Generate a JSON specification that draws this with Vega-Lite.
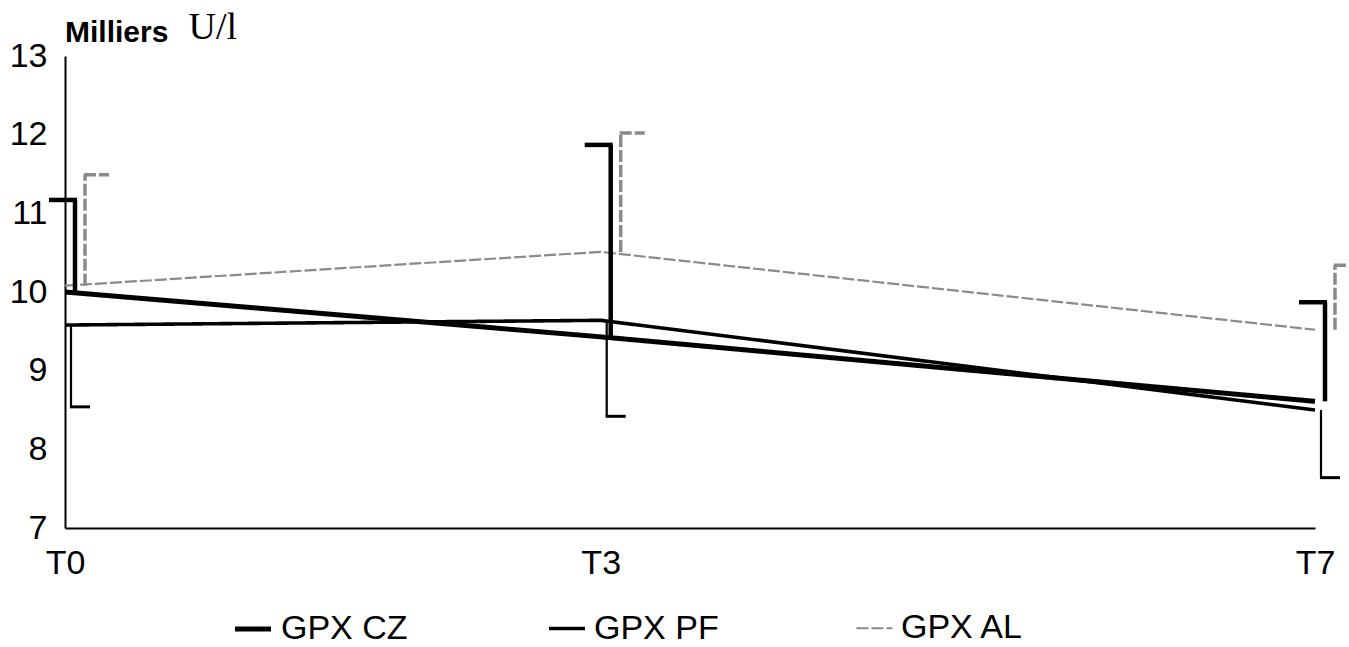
{
  "$schema": "https://vega.github.io/schema/vega-lite/v6.json",
  "width": 1250,
  "height": 472,
  "autosize": "none",
  "padding": {"left": 65, "top": 56, "right": 34, "bottom": 119},
  "background": "white",
  "title": {
    "text": "Milliers",
    "anchor": "start",
    "frame": "group",
    "font": "Liberation Sans",
    "fontSize": 30,
    "fontWeight": "bold",
    "color": "black",
    "offset": 0,
    "dy": 40
  },
  "data": {
    "values": [
      {"t": 0, "series": "GPX CZ", "mean": 10.0, "bar": 11.17},
      {"t": 3, "series": "GPX CZ", "mean": 9.43, "bar": 11.87},
      {"t": 7, "series": "GPX CZ", "mean": 8.61, "bar": 9.87},
      {"t": 0, "series": "GPX PF", "mean": 9.58, "bar": 8.54},
      {"t": 3, "series": "GPX PF", "mean": 9.64, "bar": 8.42},
      {"t": 7, "series": "GPX PF", "mean": 8.5, "bar": 7.64},
      {"t": 0, "series": "GPX AL", "mean": 10.08, "bar": 11.49},
      {"t": 3, "series": "GPX AL", "mean": 10.51, "bar": 12.02},
      {"t": 7, "series": "GPX AL", "mean": 9.52, "bar": 10.34}
    ]
  },
  "layer": [
    {
      "mark": {"type": "line", "strokeCap": "butt"},
      "encoding": {
        "x": {
          "field": "t", "type": "quantitative",
          "scale": {"domain": [0, 7], "nice": false, "zero": false},
          "axis": {"values": [0, 3, 7], "labelExpr": "'T' + datum.value", "title": null}
        },
        "y": {
          "field": "mean", "type": "quantitative",
          "scale": {"domain": [7, 13], "nice": false, "zero": false},
          "axis": {"values": [7, 8, 9, 10, 11, 12, 13], "title": "U/l"}
        },
        "color": {
          "field": "series", "type": "nominal",
          "scale": {"domain": ["GPX CZ", "GPX PF", "GPX AL"], "range": ["#000000", "#000000", "#8a8a8a"]},
          "legend": {"title": null}
        },
        "strokeWidth": {
          "field": "series", "type": "nominal",
          "scale": {"domain": ["GPX CZ", "GPX PF", "GPX AL"], "range": [5, 2.2, 3.5]},
          "legend": {"title": null}
        },
        "strokeDash": {
          "field": "series", "type": "nominal",
          "scale": {"domain": ["GPX CZ", "GPX PF", "GPX AL"], "range": [[1, 0], [1, 0], [12, 3]]},
          "legend": {"title": null}
        }
      }
    },
    {
      "transform": [{"filter": "datum.series === 'GPX CZ'"}],
      "mark": {"type": "rule", "color": "black", "strokeWidth": 4.5, "xOffset": 10},
      "encoding": {
        "x": {"field": "t", "type": "quantitative", "axis": {"values": [0, 3, 7], "labelExpr": "'T' + datum.value", "title": null}},
        "y": {"field": "mean", "type": "quantitative", "axis": {"values": [7, 8, 9, 10, 11, 12, 13], "title": "U/l"}},
        "y2": {"field": "bar"}
      }
    },
    {
      "transform": [{"filter": "datum.series === 'GPX CZ'"}],
      "mark": {"type": "rule", "color": "black", "strokeWidth": 4.5, "xOffset": -16, "x2Offset": 12},
      "encoding": {
        "x": {"field": "t", "type": "quantitative", "axis": {"values": [0, 3, 7], "labelExpr": "'T' + datum.value", "title": null}},
        "x2": {"field": "t"},
        "y": {"field": "bar", "type": "quantitative", "axis": {"values": [7, 8, 9, 10, 11, 12, 13], "title": "U/l"}}
      }
    },
    {
      "transform": [{"filter": "datum.series === 'GPX PF'"}],
      "mark": {"type": "rule", "color": "black", "strokeWidth": 2.2, "xOffset": 6},
      "encoding": {
        "x": {"field": "t", "type": "quantitative", "axis": {"values": [0, 3, 7], "labelExpr": "'T' + datum.value", "title": null}},
        "y": {"field": "mean", "type": "quantitative", "axis": {"values": [7, 8, 9, 10, 11, 12, 13], "title": "U/l"}},
        "y2": {"field": "bar"}
      }
    },
    {
      "transform": [{"filter": "datum.series === 'GPX PF'"}],
      "mark": {"type": "rule", "color": "black", "strokeWidth": 3, "xOffset": 5, "x2Offset": 25},
      "encoding": {
        "x": {"field": "t", "type": "quantitative", "axis": {"values": [0, 3, 7], "labelExpr": "'T' + datum.value", "title": null}},
        "x2": {"field": "t"},
        "y": {"field": "bar", "type": "quantitative", "axis": {"values": [7, 8, 9, 10, 11, 12, 13], "title": "U/l"}}
      }
    },
    {
      "transform": [{"filter": "datum.series === 'GPX AL'"}],
      "mark": {"type": "rule", "color": "#8a8a8a", "strokeWidth": 3.5, "strokeDash": [12, 3], "xOffset": 20},
      "encoding": {
        "x": {"field": "t", "type": "quantitative", "axis": {"values": [0, 3, 7], "labelExpr": "'T' + datum.value", "title": null}},
        "y": {"field": "mean", "type": "quantitative", "axis": {"values": [7, 8, 9, 10, 11, 12, 13], "title": "U/l"}},
        "y2": {"field": "bar"}
      }
    },
    {
      "transform": [{"filter": "datum.series === 'GPX AL'"}],
      "mark": {"type": "rule", "color": "#8a8a8a", "strokeWidth": 3.5, "strokeDash": [12, 3], "xOffset": 19, "x2Offset": 44},
      "encoding": {
        "x": {"field": "t", "type": "quantitative", "axis": {"values": [0, 3, 7], "labelExpr": "'T' + datum.value", "title": null}},
        "x2": {"field": "t"},
        "y": {"field": "bar", "type": "quantitative", "axis": {"values": [7, 8, 9, 10, 11, 12, 13], "title": "U/l"}}
      }
    }
  ],
  "config": {
    "view": {"stroke": null},
    "axis": {
      "domainColor": "black",
      "domainWidth": 2,
      "ticks": false,
      "grid": false,
      "labelFont": "Liberation Sans",
      "labelFontSize": 34,
      "labelColor": "black",
      "labelFontWeight": "normal"
    },
    "axisX": {"labelPadding": 18, "labelFlush": false},
    "axisY": {
      "labelPadding": 18,
      "titleFont": "Liberation Serif",
      "titleFontSize": 38,
      "titleFontWeight": "normal",
      "titleAngle": 0,
      "titleAlign": "left",
      "titleBaseline": "alphabetic",
      "titleX": 123,
      "titleY": -18,
      "titleColor": "black"
    },
    "legend": {
      "orient": "none",
      "legendX": 167,
      "legendY": 552,
      "direction": "horizontal",
      "symbolType": "stroke",
      "symbolSize": 1300,
      "labelFont": "Liberation Sans",
      "labelFontSize": 34,
      "labelColor": "black",
      "labelOffset": 7,
      "columnPadding": 133
    }
  }
}
